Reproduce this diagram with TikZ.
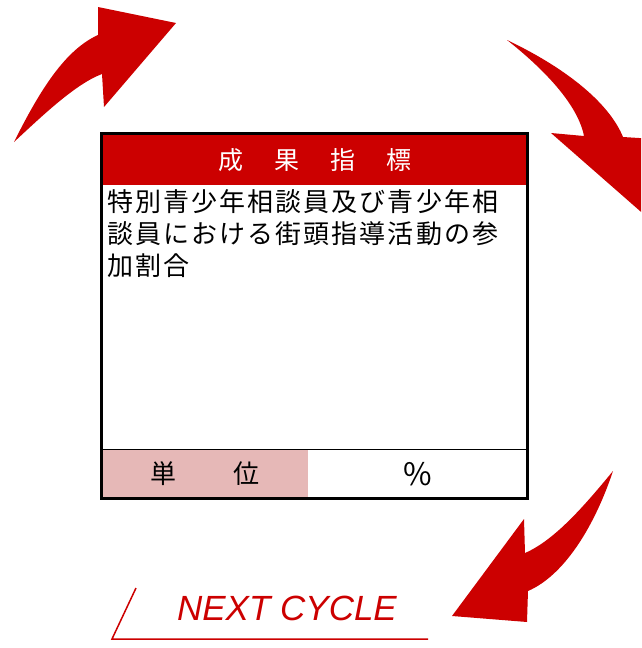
\documentclass[tikz,border=0pt]{standalone}
\usepackage{fontspec}
\newfontfamily\jpfont{Noto Sans CJK JP}
\newfontfamily\jpbody[LetterSpace=8]{Noto Sans CJK JP}
\newfontfamily\enfont{Liberation Sans}
\definecolor{cyclered}{HTML}{CC0000}
\definecolor{unitpink}{HTML}{E6B8B7}
\tikzset{
  arrowfill/.style={fill=cyclered, draw=none},
  bodyline/.style={anchor=base west, inner sep=0pt, font=\jpbody\fontsize{26}{32}\selectfont},
  celltext/.style={inner sep=0pt, font=\jpfont\fontsize{26}{30}\selectfont},
}
\begin{document}
\begin{tikzpicture}[x=1pt,y=-1pt]
\useasboundingbox (0,0) rectangle (641,648);
\clip (0,0) rectangle (641,648);
% top-left arrow
\fill[arrowfill] (14,142) .. controls (40,90) and (65,50) .. (98,35)
  -- (98,7) -- (176,23) -- (104,107) -- (102,74)
  .. controls (75,84) and (40,118) .. (14,142) -- cycle;
% top-right arrow
\fill[arrowfill] (507,40) .. controls (570,70) and (610,105) .. (623,137)
  -- (655,139) -- (648,218) -- (551,133) -- (584,136)
  .. controls (578,105) and (545,70) .. (507,40) -- cycle;
% bottom-right arrow
\fill[arrowfill] (613,471) .. controls (595,525) and (565,575) .. (528,591)
  -- (527,622) -- (452,616) -- (524,519) -- (525,553)
  .. controls (555,540) and (585,505) .. (613,471) -- cycle;
% box
\fill[cyclered] (101.5,133.5) rectangle (527.5,185);
\fill[unitpink] (101.5,449.5) rectangle (308,498.5);
\draw[line width=0.8pt] (101.5,449.5) -- (527.5,449.5);
\draw[line width=3pt] (101.5,133.5) rectangle (527.5,498.5);
\node[celltext, text=white, font=\jpfont\fontsize{25}{30}\selectfont] (head) at (315,160) {成\hskip31pt 果\hskip31pt 指\hskip31pt 標};
\node[bodyline] (l1) at (107,211) {特別青少年相談員及び青少年相};
\node[bodyline] (l2) at (107,243) {談員における街頭指導活動の参};
\node[bodyline] (l3) at (107,275) {加割合};
\node[celltext] (unit) at (205,474) {単\hskip57pt 位};
\node[celltext, font=\jpfont\fontsize{31}{34}\selectfont] (pct) at (418,474) {\%};
% next cycle
\node[inner sep=0pt, anchor=base, text=cyclered, font=\enfont\itshape\fontsize{35}{40}\selectfont] (nc) at (287,620) {NEXT CYCLE};
\coordinate (n1) at (136,588);
\coordinate (n2) at (112,639);
\coordinate (n3) at (428,639);
\draw[cyclered, line width=1.5pt] (n1) -- (n2) -- (n3);
\end{tikzpicture}
\end{document}
